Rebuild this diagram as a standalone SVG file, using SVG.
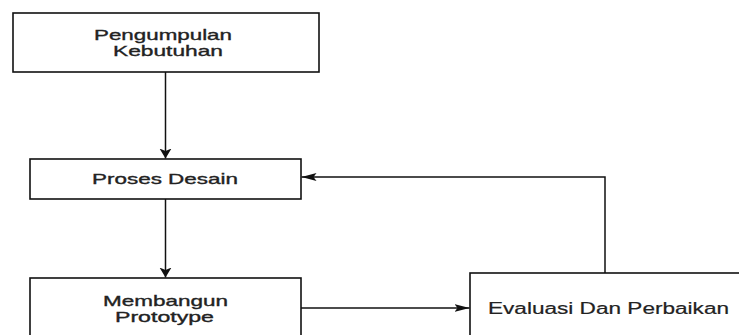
<svg xmlns="http://www.w3.org/2000/svg" width="739" height="335" viewBox="0 0 739 335">
<style>
.box{fill:#fff;stroke:#111;stroke-width:1.6}
.t{font-family:"Liberation Sans",Arial,sans-serif;font-size:15px;fill:#222;stroke:#222;stroke-width:0.35;text-anchor:start}
.c{fill:none;stroke:#111;stroke-width:1.5}
</style>
<defs>
<marker id="ad" markerUnits="userSpaceOnUse" markerWidth="12" markerHeight="14" refX="10" refY="6.5" orient="auto" viewBox="0 0 12 14">
<path d="M0,0.5 L10,6.5 L0,12.5 L2.5,6.5 Z" fill="#111"/>
</marker>
<marker id="ah" markerUnits="userSpaceOnUse" markerWidth="16" markerHeight="10" refX="15" refY="4.5" orient="auto" viewBox="0 0 16 10">
<path d="M0,0.5 L15,4.5 L0,8.5 L3,4.5 Z" fill="#111"/>
</marker>
</defs>
<g id="connectors">
<line class="c" x1="165.5" y1="72" x2="165.5" y2="158.5" marker-end="url(#ad)"/>
<line class="c" x1="165.5" y1="199" x2="165.5" y2="277.5" marker-end="url(#ad)"/>
<line class="c" x1="301" y1="308" x2="469.5" y2="308" marker-end="url(#ah)"/>
<polyline class="c" points="605,273 605,177 301.5,177" marker-end="url(#ah)"/>
</g>
<g id="n1">
<rect class="box" x="13" y="13" width="306" height="59"/>
<text class="t" x="94" y="40" textLength="138" lengthAdjust="spacingAndGlyphs">Pengumpulan</text>
<text class="t" x="113" y="56" textLength="110" lengthAdjust="spacingAndGlyphs">Kebutuhan</text>
</g>
<g id="n2">
<rect class="box" x="30" y="159" width="271" height="40"/>
<text class="t" x="92" y="184" textLength="146" lengthAdjust="spacingAndGlyphs">Proses Desain</text>
</g>
<g id="n3">
<rect class="box" x="30" y="278" width="271" height="70"/>
<text class="t" x="103" y="306" textLength="125" lengthAdjust="spacingAndGlyphs">Membangun</text>
<text class="t" x="115" y="322" textLength="99" lengthAdjust="spacingAndGlyphs">Prototype</text>
</g>
<g id="n4">
<rect class="box" x="470" y="273" width="280" height="80"/>
<text class="t" x="488" y="314" textLength="241" lengthAdjust="spacingAndGlyphs" style="font-size:16px;stroke-width:0.2">Evaluasi Dan Perbaikan</text>
</g>
</svg>
